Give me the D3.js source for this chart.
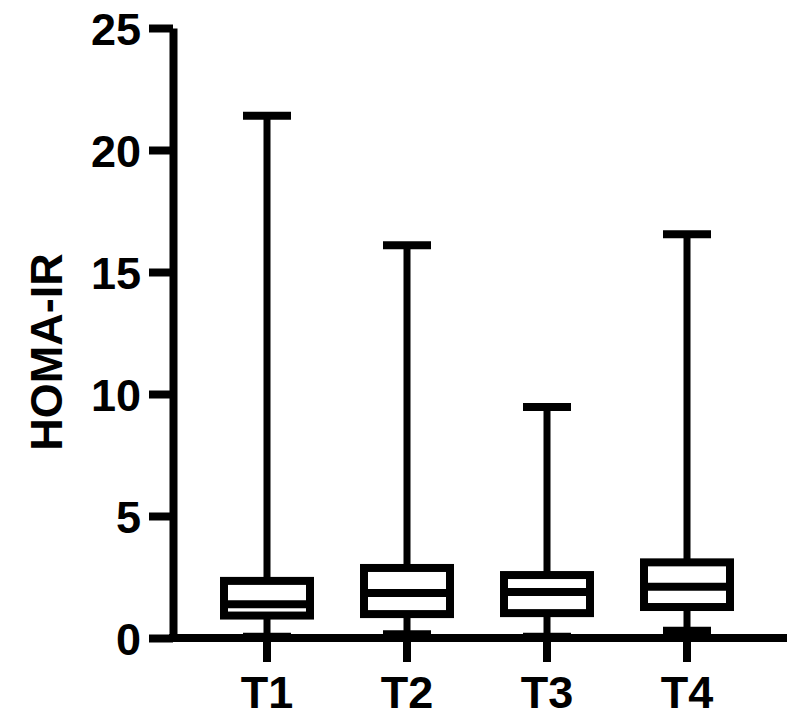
<!DOCTYPE html>
<html>
<head>
<meta charset="utf-8">
<script src="https://cdn.jsdelivr.net/npm/d3@7"></script>
<style>
  html, body { margin: 0; padding: 0; background: #fff; }
  svg { display: block; }
  text { font-family: "Liberation Sans", Arial, sans-serif; font-weight: bold; fill: #000; }
</style>
</head>
<body>
<div id="chart"></div>
<script>
// box plot values
var categories = ["T1", "T2", "T3", "T4"];
var mins    = [0.05, 0.15, 0.05, 0.3];
var q1s     = [0.92, 0.98, 1.02, 1.27];
var medians = [1.38, 1.84, 1.89, 2.1];
var q3s     = [2.34, 2.87, 2.58, 3.1];
var maxs    = [21.4, 16.1, 9.47, 16.55];
var yTicks  = [0, 5, 10, 15, 20, 25];
var yLabel  = "HOMA-IR";

var width = 800, height = 718;
var lw = 7;

var svg = d3.select("#chart").append("svg")
    .attr("width", width)
    .attr("height", height);

var y = d3.scaleLinear().domain([0, 25]).range([638, 28]);
var x = d3.scaleBand().domain(categories).range([197, 757]).padding(0);

var axisX0 = 173, axisX1 = 787;

// y axis
var gy = svg.append("g")
    .attr("transform", "translate(" + axisX0 + ",0)")
    .call(d3.axisLeft(y).tickValues(yTicks).tickSize(24).tickSizeOuter(0).tickPadding(8));
gy.selectAll("line, path").attr("stroke", "#000").attr("stroke-width", lw + 1);
gy.selectAll("text").style("font-size", "45px").attr("dy", "0.36em");

// x axis
var gx = svg.append("g")
    .attr("transform", "translate(0," + y(0) + ")")
    .call(d3.axisBottom(x).tickSize(24).tickSizeOuter(0).tickPadding(12));
gx.select(".domain").attr("d", "M" + (axisX0 - 4) + ",0H" + axisX1);
gx.selectAll("line, path").attr("stroke", "#000").attr("stroke-width", lw + 1);
gx.selectAll("text").style("font-size", "45px").attr("dy", "0.75em");

var data = categories.map(function(c, i) {
    return { cat: c, min: mins[i], q1: q1s[i], med: medians[i], q3: q3s[i], max: maxs[i] };
});

var boxW = 86, capW = 48;

var g = svg.append("g").selectAll("g")
    .data(data)
    .enter().append("g")
    .attr("transform", function(d) { return "translate(" + (x(d.cat) + x.bandwidth() / 2) + ",0)"; });

// whisker
g.append("line")
    .attr("x1", 0).attr("x2", 0)
    .attr("y1", function(d) { return y(d.min); })
    .attr("y2", function(d) { return y(d.max); })
    .attr("stroke", "#000").attr("stroke-width", lw);

// caps
g.append("line")
    .attr("x1", -capW / 2).attr("x2", capW / 2)
    .attr("y1", function(d) { return y(d.max); })
    .attr("y2", function(d) { return y(d.max); })
    .attr("stroke", "#000").attr("stroke-width", lw + 1);
g.append("line")
    .attr("x1", -capW / 2).attr("x2", capW / 2)
    .attr("y1", function(d) { return y(d.min); })
    .attr("y2", function(d) { return y(d.min); })
    .attr("stroke", "#000").attr("stroke-width", lw + 1);

// box
g.append("rect")
    .attr("x", -boxW / 2)
    .attr("width", boxW)
    .attr("y", function(d) { return y(d.q3); })
    .attr("height", function(d) { return y(d.q1) - y(d.q3); })
    .attr("fill", "#fff")
    .attr("stroke", "#000").attr("stroke-width", lw + 1);

// median
g.append("line")
    .attr("x1", -boxW / 2).attr("x2", boxW / 2)
    .attr("y1", function(d) { return y(d.med); })
    .attr("y2", function(d) { return y(d.med); })
    .attr("stroke", "#000").attr("stroke-width", lw + 1);

// y label
svg.append("text")
    .attr("transform", "translate(62,352) rotate(-90)")
    .attr("text-anchor", "middle")
    .style("font-size", "45px")
    .text(yLabel);
</script>
</body>
</html>
